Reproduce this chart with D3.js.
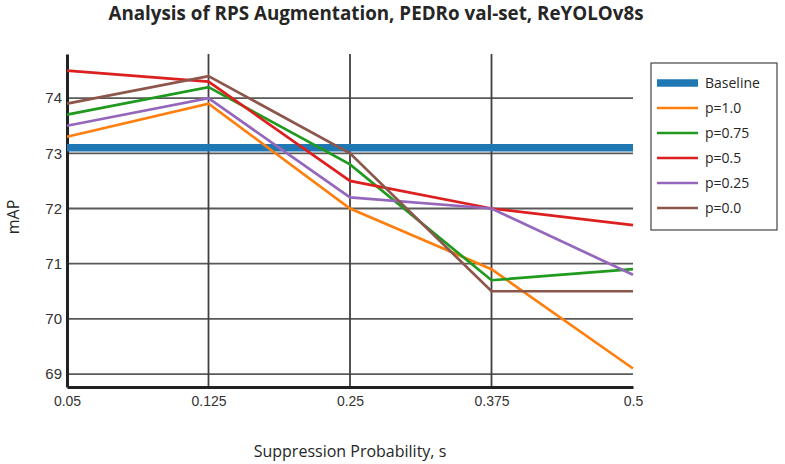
<!DOCTYPE html>
<html>
<head>
<meta charset="utf-8">
<script src="https://cdn.jsdelivr.net/npm/d3@7"></script>
<style>
  body { margin: 0; background: #fff; }
  svg { font-family: "Open Sans", sans-serif; }
</style>
</head>
<body>
<div id="chart"></div>
<script>
// Chart data
const sValues = ["0.05", "0.125", "0.25", "0.375", "0.5"];
const yTicks = [69, 70, 71, 72, 73, 74];
const baseline = 73.1;
const seriesNames = ["p=1.0", "p=0.75", "p=0.5", "p=0.25", "p=0.0"];
const p10 = [73.3, 73.9, 72.0, 70.9, 69.1];
const p075 = [73.7, 74.2, 72.8, 70.7, 70.9];
const p05 = [74.5, 74.3, 72.5, 72.0, 71.7];
const p025 = [73.5, 74.0, 72.2, 72.0, 70.8];
const p00 = [73.9, 74.4, 73.0, 70.5, 70.5];
const seriesColors = ["#ff7f0e", "#1f9a1f", "#dc1f1f", "#9467bd", "#8c564b"];

document.addEventListener('DOMContentLoaded', function() {
    const W = 785, H = 464;
    const margin = { top: 54, right: 152, bottom: 77, left: 67 };
    const width = W - margin.left - margin.right;
    const height = H - margin.top - margin.bottom;

    const series = [p10, p075, p05, p025, p00].map((vals, i) => ({
        name: seriesNames[i],
        color: seriesColors[i],
        values: vals
    }));

    const svg = d3.select("#chart").append("svg")
        .attr("width", W)
        .attr("height", H);

    const g = svg.append("g")
        .attr("transform", `translate(${margin.left},${margin.top})`);

    const x = d3.scalePoint().domain(sValues).range([0, width]);
    const y = d3.scaleLinear().domain([68.765, 74.8]).range([height, 0]);

    // horizontal grid
    g.append("g")
        .selectAll("line")
        .data(yTicks)
        .enter().append("line")
        .attr("x1", 0).attr("x2", width)
        .attr("y1", d => y(d)).attr("y2", d => y(d))
        .attr("stroke", "#595959")
        .attr("stroke-width", 1.8);

    // vertical grid (inner categories)
    g.append("g")
        .selectAll("line")
        .data(sValues.slice(1, -1))
        .enter().append("line")
        .attr("x1", d => x(d)).attr("x2", d => x(d))
        .attr("y1", 0).attr("y2", height)
        .attr("stroke", "#404040")
        .attr("stroke-width", 1.8);

    // axes
    const xAxis = g.append("g")
        .attr("transform", `translate(0,${height})`)
        .call(d3.axisBottom(x).tickSize(0).tickPadding(9));
    xAxis.select(".domain").attr("stroke", "#222").attr("stroke-width", 3);
    xAxis.selectAll("text").attr("font-size", 14).attr("fill", "#333");

    const yAxis = g.append("g")
        .call(d3.axisLeft(y).tickValues(yTicks).tickFormat(d3.format("d")).tickSize(0).tickPadding(5));
    yAxis.select(".domain").attr("stroke", "#222").attr("stroke-width", 3);
    yAxis.selectAll("text").attr("font-size", 15).attr("fill", "#333");

    // baseline
    g.append("line")
        .attr("x1", 0).attr("x2", width)
        .attr("y1", y(baseline)).attr("y2", y(baseline))
        .attr("stroke", "#1f77b4")
        .attr("stroke-width", 7.5);

    const line = d3.line()
        .x((d, i) => x(sValues[i]))
        .y(d => y(d));

    g.selectAll(".series")
        .data(series)
        .enter().append("path")
        .attr("class", "series")
        .attr("fill", "none")
        .attr("stroke", d => d.color)
        .attr("stroke-width", 2.7)
        .attr("stroke-linejoin", "miter")
        .attr("d", d => line(d.values));

    // title
    svg.append("text")
        .attr("x", 376).attr("y", 20)
        .attr("text-anchor", "middle")
        .attr("font-size", 18.8)
        .attr("font-weight", "bold")
        .attr("fill", "#262626")
        .text("Analysis of RPS Augmentation, PEDRo val-set, ReYOLOv8s");

    // axis titles
    svg.append("text")
        .attr("x", 350).attr("y", 457)
        .attr("text-anchor", "middle")
        .attr("font-size", 16)
        .attr("fill", "#262626")
        .text("Suppression Probability, s");

    svg.append("text")
        .attr("transform", "translate(19,217) rotate(-90)")
        .attr("text-anchor", "middle")
        .attr("font-size", 16)
        .attr("fill", "#262626")
        .text("mAP");

    // legend
    const legend = svg.append("g").attr("transform", "translate(651,63)");
    legend.append("rect")
        .attr("width", 126).attr("height", 167)
        .attr("fill", "#fff")
        .attr("stroke", "#444")
        .attr("stroke-width", 1.2);

    const items = [{ name: "Baseline", color: "#1f77b4", w: 7.5 }]
        .concat(series.map(s => ({ name: s.name, color: s.color, w: 2.7 })));

    const li = legend.selectAll(".item")
        .data(items)
        .enter().append("g")
        .attr("transform", (d, i) => `translate(0,${20 + i * 25})`);
    li.append("line")
        .attr("x1", 6).attr("x2", 47)
        .attr("stroke", d => d.color)
        .attr("stroke-width", d => d.w);
    li.append("text")
        .attr("x", 54).attr("dy", "0.35em")
        .attr("font-size", 14)
        .attr("fill", "#262626")
        .text(d => d.name);
});
</script>
</body>
</html>
